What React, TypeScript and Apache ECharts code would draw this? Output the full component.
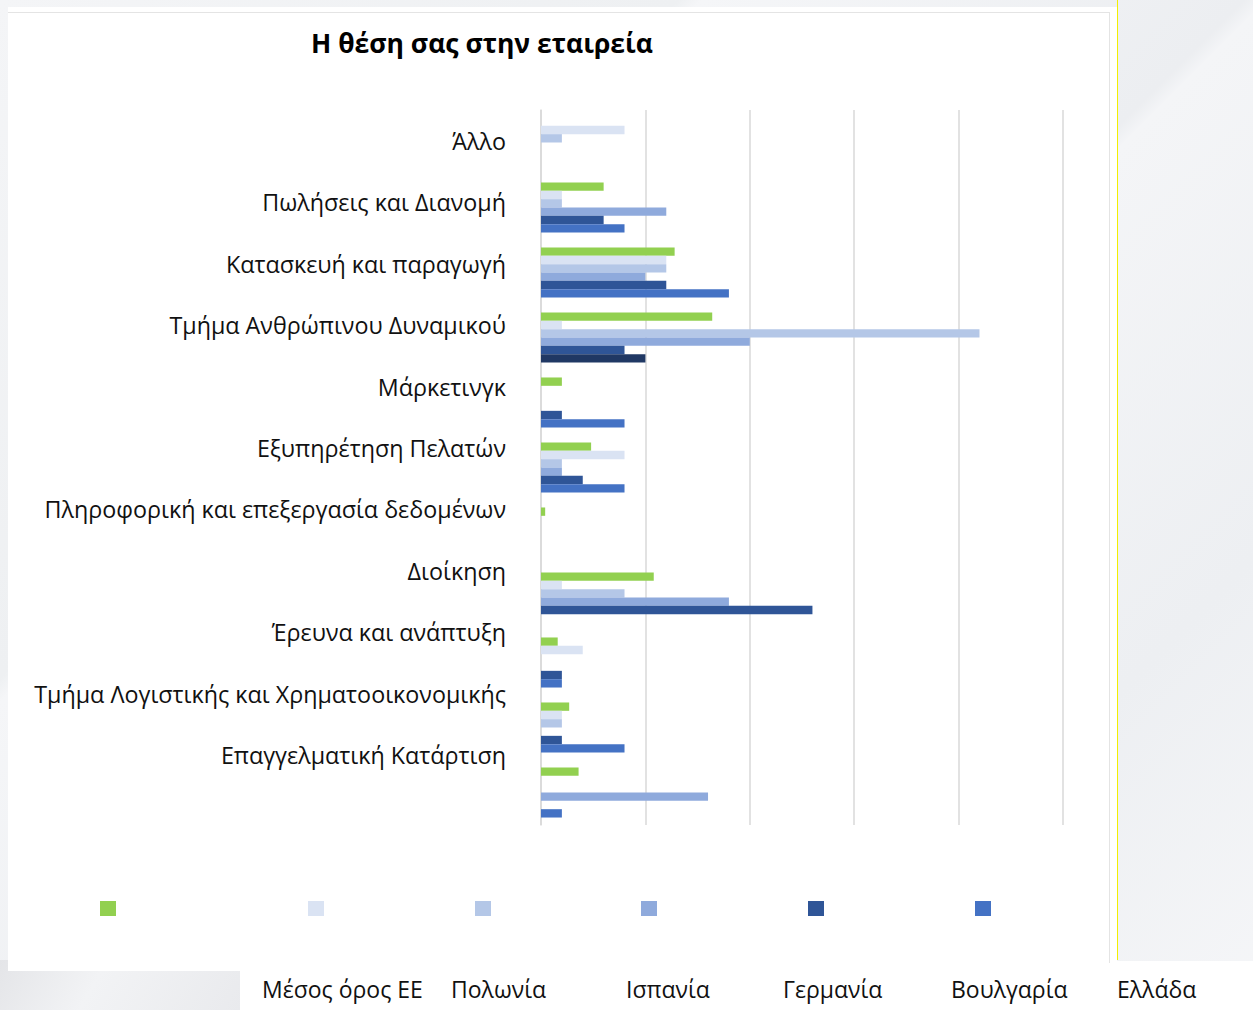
import React, { useEffect, useRef } from "react";
import * as echarts from "echarts";

const categories = [
  "Άλλο",
  "Πωλήσεις και Διανομή",
  "Κατασκευή και παραγωγή",
  "Τμήμα Ανθρώπινου Δυναμικού",
  "Μάρκετινγκ",
  "Εξυπηρέτηση Πελατών",
  "Πληροφορική και επεξεργασία δεδομένων",
  "Διοίκηση",
  "Έρευνα και ανάπτυξη",
  "Τμήμα Λογιστικής και Χρηματοοικονομικής",
  "Επαγγελματική Κατάρτιση",
];

const seriesNames = ["Μέσος όρος ΕΕ", "Πολωνία", "Ισπανία", "Γερμανία", "Βουλγαρία", "Ελλάδα"];

const euAverage = [0, 3, 6.4, 8.2, 1, 2.4, 0.2, 5.4, 0.8, 1.35, 1.8];
const poland = [4, 1, 6, 1, 0, 4, 0, 1, 2, 1, 0];
const spain = [1, 1, 6, 21, 0, 1, 0, 4, 0, 1, 0];
const germany = [0, 6, 5, 10, 0, 1, 0, 9, 0, 0, 8];
const bulgaria = [0, 3, 6, 4, 1, 2, 0, 13, 1, 1, 0];
const greece = [0, 4, 9, 5, 4, 4, 0, 0, 1, 4, 1];

const seriesValues = [euAverage, poland, spain, germany, bulgaria, greece];
const colors = ["#92D050", "#DAE3F3", "#B4C7E7", "#8FAADC", "#2F5597", "#4472C4"];

const FONT = "'Open Sans', 'Noto Sans', sans-serif";

export default function App() {
  const ref = useRef<HTMLDivElement>(null);

  useEffect(() => {
    if (!ref.current) return;
    const chart = echarts.init(ref.current, undefined, { renderer: "svg" });

    const iconLefts = [100, 308, 475, 641, 808, 975];
    const textLefts = [257, 446, 621, 778, 946, 1112];

    const iconLegends = seriesNames.map((name, i) => ({
      data: [name],
      left: iconLefts[i],
      top: 901,
      icon: "rect",
      itemWidth: 16,
      itemHeight: 15,
      selectedMode: false,
      formatter: () => "",
      padding: 0,
    }));
    const textLegends = seriesNames.map((name, i) => ({
      data: [name],
      left: textLefts[i],
      top: 976,
      icon: "none",
      itemWidth: 0,
      itemHeight: 26,
      selectedMode: false,
      padding: 0,
      textStyle: { fontFamily: FONT, fontSize: 23, color: "#111" },
    }));

    const hrIndex = 3;
    const series = seriesNames.map((name, i) => ({
      name,
      type: "bar",
      xAxisIndex: 0,
      yAxisIndex: 0,
      barGap: "0%",
      barCategoryGap: "23%",
      itemStyle: { color: colors[i] },
      data: seriesValues[i].map((v, ci) =>
        i === 5 && ci === hrIndex ? { value: v, itemStyle: { color: "#203864" } } : v
      ),
    }));

    chart.setOption({
      animation: false,
      backgroundColor: "transparent",
      title: {
        text: "Η θέση σας στην εταιρεία",
        left: 306,
        top: 24,
        textStyle: { fontFamily: FONT, fontSize: 26.5, fontWeight: "bold", color: "#000" },
      },
      legend: [...iconLegends, ...textLegends],
      grid: [
        { left: 541, top: 110, width: 522, height: 715 },
        { left: 514, top: 110, width: 1, height: 676 },
      ],
      xAxis: [
        {
          type: "value",
          gridIndex: 0,
          min: 0,
          max: 25,
          interval: 5,
          axisLabel: { show: false },
          axisLine: { show: false },
          axisTick: { show: false },
          splitLine: { lineStyle: { color: "#d9d9d9", width: 1.5 } },
        },
        { type: "value", gridIndex: 1, show: false },
      ],
      yAxis: [
        {
          type: "category",
          gridIndex: 0,
          inverse: true,
          data: categories,
          axisLine: { show: true, lineStyle: { color: "#d9d9d9", width: 1.5 } },
          axisTick: { show: false },
          axisLabel: { show: false },
        },
        {
          type: "category",
          gridIndex: 1,
          inverse: true,
          data: categories,
          axisLine: { show: false },
          axisTick: { show: false },
          axisLabel: { margin: 8, fontFamily: FONT, fontSize: 23.3, color: "#111" },
        },
      ],
      series,
    });

    return () => chart.dispose();
  }, []);

  return (
    <div
      style={{
        position: "fixed",
        left: 0,
        top: 0,
        width: 1253,
        height: 1010,
        overflow: "hidden",
        background:
          "linear-gradient(135deg, #f4f5f7 0%, #eef0f2 30%, #f5f6f8 31%, #eceef1 55%, #f4f5f7 56%, #edeff2 80%, #f5f6f8 100%)",
      }}
    >
      <div
        style={{
          position: "absolute",
          left: 0,
          top: 960,
          width: 240,
          height: 50,
          background: "linear-gradient(120deg, #e4e5e8 0%, #f2f3f5 40%, #e9eaed 100%)",
        }}
      />
      <div style={{ position: "absolute", left: 8, top: 7, width: 1109, height: 964, background: "#fff" }} />
      <div style={{ position: "absolute", left: 240, top: 961, width: 1013, height: 49, background: "#fff" }} />
      <div
        style={{
          position: "absolute",
          left: 8,
          top: 12,
          width: 1101,
          height: 950,
          borderTop: "1.5px solid #e4e4e4",
          borderRight: "1.5px solid #e4e4e4",
        }}
      />
      <div style={{ position: "absolute", left: 1117, top: 0, width: 1, height: 960, background: "#f2f000" }} />
      <div ref={ref} style={{ position: "absolute", left: 0, top: 0, width: 1253, height: 1010 }} />
    </div>
  );
}
